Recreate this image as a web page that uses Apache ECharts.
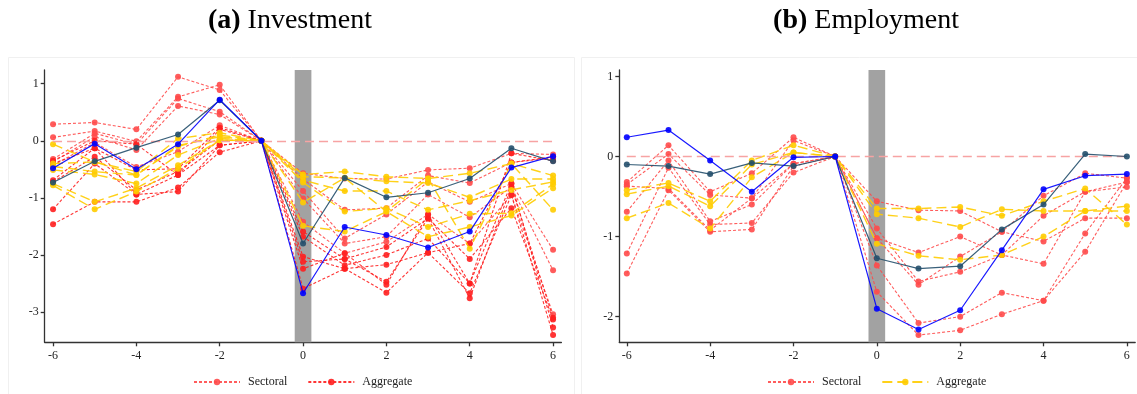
<!DOCTYPE html>
<html><head><meta charset="utf-8">
<script src="https://cdn.jsdelivr.net/npm/echarts@6/dist/echarts.min.js"></script>
<style>html,body{margin:0;padding:0;background:#fff}#c{width:1137px;height:394px}</style>
</head><body><div id="c"></div>
<script>
// ---------- data ----------
const periods = [-6,-5,-4,-3,-2,-1,0,1,2,3,4,5,6];
const xTicks = [-6,-4,-2,0,2,4,6];
const invYTicks = [-3,-2,-1,0,1];
const empYTicks = [-2,-1,0,1];

// (a) Investment
const invSectoral = [
  [0.29, 0.32, 0.20, 1.12, 0.89, 0, -0.57, -0.66, -0.67, -0.51, -0.48, -0.22, -0.24],
  [0.06, 0.17, -0.01, 0.77, 0.98, 0, -0.67, -1.21, -1.18, -0.61, -0.74, -0.38, -0.30],
  [-0.32, 0.13, -0.06, 0.74, 0.51, 0, -0.88, -1.71, -1.29, -0.72, -1.07, -0.75, -1.91],
  [-0.37, 0.07, -0.16, 0.61, 0.46, 0, -1.01, -1.80, -1.68, -0.94, -1.34, -0.81, -2.27],
  [-0.43, -0.03, -0.46, -0.19, 0.27, 0, -1.42, -1.97, -1.77, -1.29, -1.80, -0.95, -3.04]
];
const invAggregate = [
  [-0.69, -0.13, -0.51, -0.49, 0.23, 0, -1.59, -2.07, -1.86, -1.36, -2.07, -1.18, -3.13],
  [-0.72, -0.28, -0.86, -0.54, 0.01, 0, -1.68, -2.18, -2.00, -1.71, -2.50, -0.75, -3.27],
  [-1.20, -0.40, -0.94, -0.60, -0.08, 0, -2.03, -2.24, -2.17, -1.96, -2.67, -0.95, -3.40],
  [-1.46, -1.07, -1.07, -0.82, -0.20, 0, -2.12, -2.07, -2.47, -1.36, -2.76, -0.81, -3.10],
  [-0.40, -0.13, -0.94, -0.89, -0.08, 0, -2.24, -1.97, -2.52, -1.29, -2.50, -0.22, -0.35],
  [-0.35, 0.00, -0.06, -0.60, 0.20, 0, -2.59, -2.24, -2.66, -1.96, -1.80, -0.38, -0.28]
];
const invYellow = [
  [-0.06, -0.37, -0.54, 0.04, 0.14, 0, -0.59, -0.54, -0.63, -0.66, -0.57, -0.40, -0.61],
  [-0.45, -0.54, -0.60, -0.08, 0.07, 0, -0.63, -0.65, -0.71, -0.74, -0.99, -0.67, -0.67],
  [-0.51, -0.59, -0.75, -0.25, 0.04, 0, -0.69, -0.88, -0.88, -1.21, -1.05, -0.86, -0.72],
  [-0.75, -1.07, -0.83, -0.43, 0.01, 0, -0.73, -1.24, -1.18, -1.51, -1.28, -1.27, -0.76],
  [-0.78, -1.20, -0.89, -0.49, 0.01, 0, -1.49, -1.59, -1.24, -1.68, -1.51, -1.31, -0.83],
  [-0.40, -0.37, -0.60, -0.10, 0.10, 0, -1.08, -0.65, -1.24, -0.66, -1.89, -0.40, -1.21]
];
const invBlue = [-0.48, -0.05, -0.50, -0.06, 0.72, 0, -2.67, -1.51, -1.65, -1.87, -1.59, -0.47, -0.27];
const invDark = [-0.73, -0.36, -0.12, 0.11, 0.71, 0, -1.80, -0.65, -0.99, -0.91, -0.66, -0.13, -0.36];

// (b) Employment
const empSectoral = [
  [-0.32, 0.14, -0.44, -0.21, 0.24, 0, -0.56, -0.67, -0.68, -0.94, -0.49, -0.21, -0.27],
  [-0.35, 0.03, -0.48, -0.52, 0.20, 0, -0.90, -1.56, -1.44, -1.23, -0.74, -0.44, -0.32],
  [-0.69, -0.05, -0.81, -0.60, -0.09, 0, -1.02, -1.20, -1.00, -1.23, -1.34, -0.44, -0.38],
  [-1.21, -0.14, -0.85, -0.83, -0.20, 0, -1.02, -1.60, -1.25, -0.94, -1.06, -0.77, -0.77],
  [-1.46, -0.42, -0.94, -0.91, -0.12, 0, -1.36, -2.08, -2.00, -1.70, -1.80, -0.96, -0.27],
  [-0.37, -0.40, -0.92, -0.52, -0.09, 0, -1.69, -2.23, -2.17, -1.97, -1.80, -1.19, -0.32]
];
const empAggregate = [
  [-0.42, -0.33, -0.56, -0.05, 0.14, 0, -0.65, -0.65, -0.63, -0.74, -0.56, -0.40, -0.85],
  [-0.47, -0.37, -0.62, -0.10, 0.05, 0, -0.72, -0.77, -0.88, -0.66, -0.68, -0.68, -0.68],
  [-0.77, -0.58, -0.90, -0.26, 0.05, 0, -1.09, -1.24, -1.29, -1.23, -1.00, -0.68, -0.62]
];
const empBlue = [0.24, 0.33, -0.05, -0.44, -0.01, 0, -1.90, -2.16, -1.92, -1.17, -0.41, -0.24, -0.22];
const empDark = [-0.10, -0.12, -0.22, -0.08, -0.12, 0, -1.27, -1.40, -1.37, -0.91, -0.60, 0.03, 0.00];

// ---------- chart ----------
const FONT = '"Liberation Serif", "Times New Roman", serif';
const RED1 = '#ff4a4a', RED2 = '#ff1f1f', YEL = '#ffcc00', BLUE = '#0000ff', DARK = '#234f6b';
const pairs = vals => periods.map((p, i) => [p, vals[i]]);
const series = [];

function band(gi) {
  series.push({
    type: 'line', xAxisIndex: gi, yAxisIndex: gi, data: [], z: 1, silent: true,
    markArea: { silent: true, itemStyle: { color: '#a2a2a2' }, data: [[{ xAxis: -0.2 }, { xAxis: 0.2 }]] },
    markLine: { silent: true, symbol: ['none', 'none'], label: { show: false },
      lineStyle: { color: '#f7a3a3', type: [9, 5], width: 1.3 },
      data: [[{ coord: [-6, 0] }, { coord: [6, 0] }]] }
  });
}
function add(list, name, color, dash, width, gi, z) {
  list.forEach(vals => series.push({
    type: 'line', name: name, xAxisIndex: gi, yAxisIndex: gi, data: pairs(vals), z: z,
    symbol: 'circle', symbolSize: 6, showSymbol: true,
    lineStyle: { color: color, type: dash, width: width, opacity: 0.9 },
    itemStyle: { color: color, opacity: 0.9 }
  }));
}
band(0); band(1);
add(invSectoral, 'Sectoral', RED1, [3, 2], 1.1, 0, 3);
add(invAggregate, 'Aggregate', RED2, [3, 2], 1.1, 0, 3);
add(invYellow, 'invY', YEL, [10, 5], 1.4, 0, 4);
add([invDark], 'invD', DARK, 'solid', 1.2, 0, 5);
add([invBlue], 'invB', BLUE, 'solid', 1.2, 0, 6);
add(empSectoral, 'Sectoral ', RED1, [3, 2], 1.1, 1, 3);
add(empAggregate, 'Aggregate ', YEL, [10, 5], 1.4, 1, 4);
add([empDark], 'empD', DARK, 'solid', 1.2, 1, 5);
add([empBlue], 'empB', BLUE, 'solid', 1.2, 1, 6);

const axisLineStyle = { color: '#333', width: 1.3 };
const labelStyle = { fontFamily: FONT, fontSize: 12, color: '#222' };
function xAxis(gi, min, max) {
  return { gridIndex: gi, type: 'value', min: min, max: max, splitLine: { show: false },
    axisLine: { show: true, onZero: false, lineStyle: axisLineStyle },
    axisTick: { show: true, customValues: xTicks, length: 4, lineStyle: axisLineStyle },
    axisLabel: Object.assign({ customValues: xTicks, margin: 8 }, labelStyle) };
}
function yAxis(gi, min, max, ticks) {
  return { gridIndex: gi, type: 'value', min: min, max: max, splitLine: { show: false },
    axisLine: { show: true, onZero: false, lineStyle: axisLineStyle },
    axisTick: { show: true, customValues: ticks, length: 4, lineStyle: axisLineStyle },
    axisLabel: Object.assign({ customValues: ticks, margin: 6 }, labelStyle) };
}
const legendBase = { itemWidth: 46, itemHeight: 8, itemGap: 20, top: 376, padding: 0, selectedMode: false,
  textStyle: { fontFamily: FONT, fontSize: 12, color: '#222', padding: [0, 0, 0, 3] },
  formatter: n => n.trim() };

const chart = echarts.init(document.getElementById('c'));
chart.setOption({
  animation: false,
  backgroundColor: '#fff',
  grid: [
    { left: 44.7, top: 70, width: 516.7, height: 272.3 },
    { left: 619.3, top: 70, width: 515.9, height: 272.3 }
  ],
  xAxis: [xAxis(0, -6.2, 6.2), xAxis(1, -6.18, 6.2)],
  yAxis: [yAxis(0, -3.53, 1.24, invYTicks), yAxis(1, -2.32, 1.08, empYTicks)],
  legend: [
    Object.assign({ left: 193, data: ['Sectoral', 'Aggregate'] }, legendBase),
    Object.assign({ left: 767, data: ['Sectoral ', 'Aggregate '] }, legendBase)
  ],
  graphic: [
    { type: 'rect', silent: true, z: -10, shape: { x: 8.5, y: 57.5, width: 566, height: 340 }, style: { fill: 'none', stroke: '#f0f0f0', lineWidth: 1 } },
    { type: 'rect', silent: true, z: -10, shape: { x: 581.5, y: 57.5, width: 560, height: 340 }, style: { fill: 'none', stroke: '#f0f0f0', lineWidth: 1 } },
    { type: 'text', x: 290, y: 21, style: { text: '{b|(a)} Investment', align: 'center', verticalAlign: 'middle', fontFamily: FONT, fontSize: 28, fill: '#000', rich: { b: { fontWeight: 'bold', fontFamily: FONT, fontSize: 28, fill: '#000' } } } },
    { type: 'text', x: 866, y: 21, style: { text: '{b|(b)} Employment', align: 'center', verticalAlign: 'middle', fontFamily: FONT, fontSize: 28, fill: '#000', rich: { b: { fontWeight: 'bold', fontFamily: FONT, fontSize: 28, fill: '#000' } } } }
  ],
  series: series
});
</script></body></html>
